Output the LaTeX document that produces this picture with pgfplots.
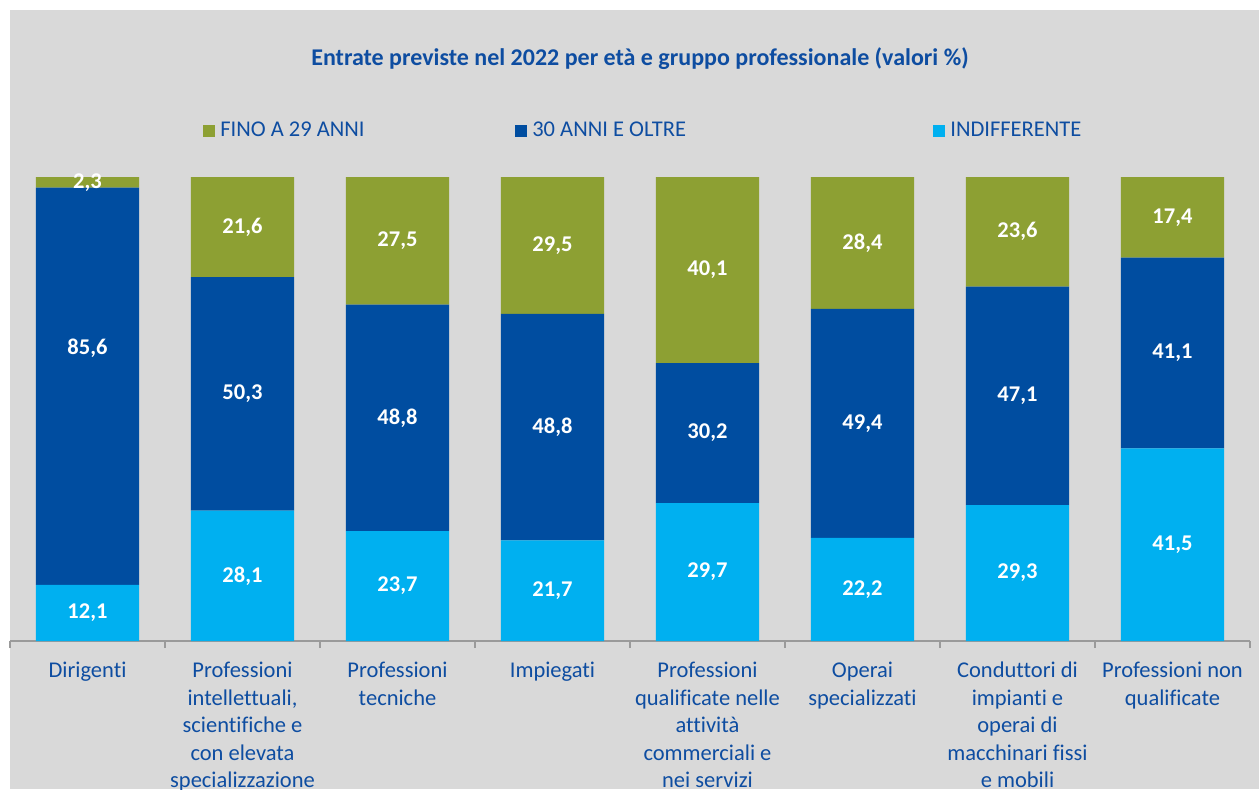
\documentclass[border=0pt]{standalone}
\usepackage{pgfplots}
\pgfplotsset{compat=1.18}
\usepackage{pgfplotstable}
\usepackage{fontspec}
\setmainfont{Carlito}[Ligatures={NoCommon}]

\definecolor{sfondo}{HTML}{D9D9D9}
\definecolor{verde}{HTML}{8DA033}
\definecolor{blu}{HTML}{004DA0}
\definecolor{azzurro}{HTML}{00B0F0}
\definecolor{testo}{HTML}{0E4DA1}
\definecolor{grigio}{HTML}{9A9A9A}

% x = categoria, valori %; dy = spostamento dell'etichetta centrale
\pgfplotstableread{
x giovani adulti indiff dy
0 2.3  85.6 12.1 8.2
1 21.6 50.3 28.1 0
2 27.5 48.8 23.7 0
3 29.5 48.8 21.7 0
4 40.1 30.2 29.7 0
5 28.4 49.4 22.2 0
6 23.6 47.1 29.3 0
7 17.4 41.1 41.5 0
}\dati

\pgfplotsset{
  base/.style={
    at={(5pt,74pt)}, anchor=south west,
    scale only axis, width=620pt, height=232pt,
    xmin=-0.5, xmax=7.5, ymin=0, ymax=100,
  },
}

\begin{document}
\begin{tikzpicture}
\useasboundingbox (0pt,0pt) rectangle (629.5pt,394.5pt);
\clip (0pt,0pt) rectangle (629.5pt,394.5pt);
\fill[white] (0pt,0pt) rectangle (629.5pt,394.5pt);
\fill[sfondo] (5pt,0pt) rectangle (629.5pt,389.5pt);
\node[anchor=base, text=testo, font=\bfseries\fontsize{12}{14}\selectfont] at (320pt,361.5pt)
  {Entrate previste nel 2022 per età e gruppo professionale (valori \%)};

\begin{axis}[base,
  ybar stacked, bar width=0.665,
  axis x line*=bottom, axis y line=none,
  axis line style={draw=grigio, line width=0.8pt},
  xtick={0,...,7}, major tick length=0pt,
  minor xtick={-0.5,0.5,...,7.5}, minor tick length=3.5pt,
  tick align=outside,
  minor x tick style={draw=grigio, line width=0.8pt},
  xticklabels={Dirigenti,
    {Professioni\\intellettuali,\\scientifiche e\\con elevata\\specializzazione},
    {Professioni\\tecniche},
    Impiegati,
    {Professioni\\qualificate nelle\\attività\\commerciali e\\nei servizi},
    {Operai\\specializzati},
    {Conduttori di\\impianti e\\operai di\\macchinari fissi\\e mobili},
    {Professioni non\\qualificate}},
  xticklabel style={align=center, text=testo, anchor=north, yshift=-7pt,
    font=\fontsize{11.25}{13.75}\selectfont},
  legend columns=3, reverse legend,
  legend style={at={(0.1556,1.1)}, anchor=west, draw=none, fill=none,
    column sep=0pt, inner sep=0pt,
    nodes={inner xsep=0pt, text=testo, font=\fontsize{11.25}{13.75}\selectfont}},
  legend image code/.code={\fill[#1] (0pt,-3pt) rectangle (6pt,3pt); \path (8.5pt,0pt);},
]
\addplot[fill=azzurro, draw=none] table[x=x, y=indiff] {\dati};
\addlegendentry{INDIFFERENTE}
\addplot[fill=blu, draw=none] table[x=x, y=adulti] {\dati};
\addlegendentry{\makebox[200.5pt][l]{30 ANNI E OLTRE}}
\addplot[fill=verde, draw=none] table[x=x, y=giovani] {\dati};
\addlegendentry{\makebox[147.5pt][l]{FINO A 29 ANNI}}
\end{axis}

\begin{axis}[base, hide axis,
  nodes near coords, point meta=explicit,
  nodes near coords style={anchor=center, text=white,
    font=\bfseries\fontsize{11.25}{13.75}\selectfont},
  /pgf/number format/.cd, use comma, fixed, fixed zerofill, precision=1,
  assume math mode=true,
]
\addplot[only marks, mark=none] table[x=x, y expr=\thisrow{indiff}/2, meta=indiff] {\dati};
\addplot[only marks, mark=none] table[x=x, y expr=\thisrow{indiff}+\thisrow{adulti}/2+\thisrow{dy}, meta=adulti] {\dati};
\addplot[only marks, mark=none] table[x=x, y expr=\thisrow{indiff}+\thisrow{adulti}+\thisrow{giovani}/2, meta=giovani] {\dati};
\end{axis}
\end{tikzpicture}
\end{document}
